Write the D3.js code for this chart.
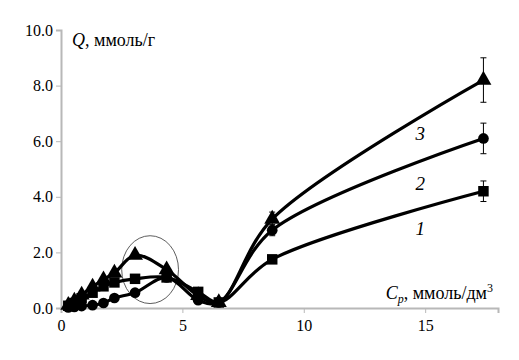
<!DOCTYPE html>
<html><head><meta charset="utf-8">
<script src="https://cdn.jsdelivr.net/npm/d3@7/dist/d3.min.js"></script>
</head><body style="margin:0;background:#fff"><svg id="c" width="519" height="360" style="display:block"></svg>
<script>
const xVals = [0.3, 0.55, 0.85, 1.3, 1.75, 2.2, 3.05, 4.35, 5.65, 6.5, 8.7, 17.4];
const series1 = [0.08, 0.18, 0.35, 0.55, 0.78, 0.92, 1.05, 1.1, 0.58, 0.2, 1.75, 4.2];
const series2 = [0.02, 0.04, 0.07, 0.1, 0.18, 0.36, 0.55, 1.1, 0.28, 0.2, 2.8, 6.1];
const series3 = [0.1, 0.25, 0.47, 0.76, 1.02, 1.26, 1.9, 1.38, 0.45, 0.2, 3.2, 8.2];
const err1 = [0, 0, 0, 0, 0, 0, 0, 0, 0, 0, 0, 0.37];
const err2 = [0, 0, 0, 0, 0, 0, 0, 0, 0, 0, 0.2, 0.55];
const err3 = [0, 0, 0, 0, 0, 0, 0.1, 0.08, 0, 0, 0.25, 0.8];
const seriesNames = ["1", "2", "3"];
const yTicks = [0, 2, 4, 6, 8, 10];
const xTicks = [0, 5, 10, 15];

const svg = d3.select("#c");
const x = d3.scaleLinear().domain([0, 18]).range([61, 498]);
const y = d3.scaleLinear().domain([0, 10]).range([308, 30]);
const SERIF = "'Liberation Serif'";

// axes
const ya = svg.append("g").attr("transform", "translate(61,0)")
  .call(d3.axisLeft(y).tickValues(yTicks).tickFormat(d3.format(".1f")).tickSizeOuter(0).tickSize(5));
const xa = svg.append("g").attr("transform", "translate(0,308)")
  .call(d3.axisBottom(x).tickValues(xTicks).tickFormat(d3.format("d")).tickSizeOuter(0).tickSize(5));
[ya, xa].forEach(g => {
  g.attr("font-family", null).attr("font-size", null);
  g.select(".domain").attr("stroke", "#b8b8b8").attr("stroke-width", 2);
  g.selectAll(".tick line").attr("stroke", "#b8b8b8").attr("stroke-width", 1);
  g.selectAll(".tick text").style("font-family", SERIF).style("font-size", "16px").attr("fill", "#000");
});
ya.selectAll(".tick text").attr("x", -8);
xa.selectAll(".tick text").attr("y", 12);

// ellipse highlight
svg.append("ellipse").attr("cx", x(3.67)).attr("cy", y(1.38))
  .attr("rx", x(1.17) - x(0)).attr("ry", y(0) - y(1.22))
  .attr("fill", "none").attr("stroke", "#333").attr("stroke-width", 0.8);

const all = [
  {vals: series1, err: err1, shape: d3.symbolSquare, size: 110},
  {vals: series2, err: err2, shape: d3.symbolCircle, size: 90},
  {vals: series3, err: err3, shape: d3.symbolTriangle, size: 110}
];
const line = d3.line().x(d => x(d[0])).y(d => y(d[1])).curve(d3.curveCatmullRom.alpha(0.5));

all.forEach(s => {
  const pts = xVals.map((xv, i) => [xv, s.vals[i], s.err[i]]);
  svg.append("path").attr("d", line(pts)).attr("fill", "none").attr("stroke", "#000").attr("stroke-width", 3.2);
});
all.forEach(s => {
  const pts = xVals.map((xv, i) => [xv, s.vals[i], s.err[i]]);
  const eb = svg.append("g").attr("stroke", "#000").attr("stroke-width", 1);
  pts.filter(p => p[2] > 0).forEach(p => {
    const cx = x(p[0]);
    eb.append("line").attr("x1", cx).attr("x2", cx).attr("y1", y(p[1] + p[2])).attr("y2", y(p[1] - p[2]));
    eb.append("line").attr("x1", cx - 3).attr("x2", cx + 3).attr("y1", y(p[1] + p[2])).attr("y2", y(p[1] + p[2]));
    eb.append("line").attr("x1", cx - 3).attr("x2", cx + 3).attr("y1", y(p[1] - p[2])).attr("y2", y(p[1] - p[2]));
  });
  svg.append("g").selectAll("path").data(pts).join("path")
    .attr("transform", p => `translate(${x(p[0])},${y(p[1])})`)
    .attr("d", d3.symbol().type(s.shape).size(s.size)).attr("fill", "#000");
});

// series labels
const lab = [[14.8, 2.63], [14.8, 4.24], [14.8, 6.04]];
lab.forEach((l, i) => {
  svg.append("text").attr("x", x(l[0])).attr("y", y(l[1]))
    .style("font-family", SERIF).style("font-size", "19px").style("font-style", "italic")
    .attr("text-anchor", "middle").text(seriesNames[i]);
});

// axis titles
const yt = svg.append("text").attr("x", 72).attr("y", 46).style("font-family", SERIF).style("font-size", "18px");
yt.append("tspan").style("font-style", "italic").text("Q");
yt.append("tspan").text(", ммоль/г");
const xt = svg.append("text").attr("x", 493).attr("y", 299).style("font-family", SERIF).style("font-size", "18px").attr("text-anchor", "end");
xt.append("tspan").style("font-style", "italic").text("C");
xt.append("tspan").style("font-style", "italic").style("font-size", "12px").attr("dy", 4).text("p");
xt.append("tspan").attr("dy", -4).text(", ммоль/дм");
xt.append("tspan").style("font-size", "12px").attr("dy", -7).text("3");
</script></body></html>
